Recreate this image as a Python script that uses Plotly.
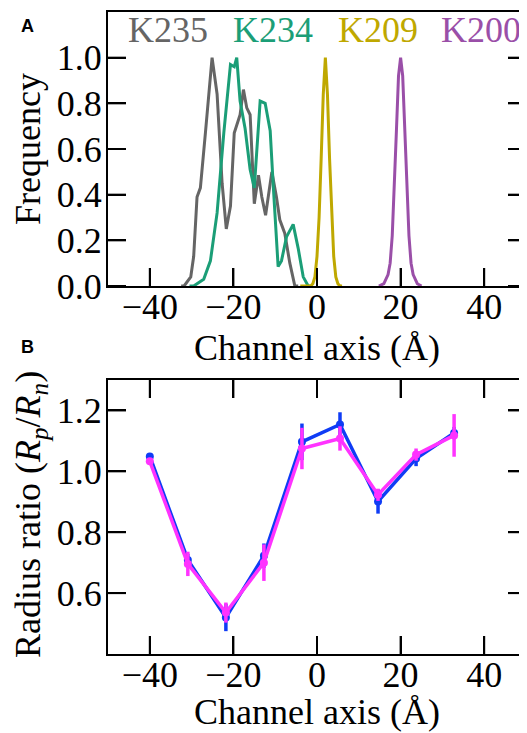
import plotly.graph_objects as go
from plotly.subplots import make_subplots

# panel A: frequency profiles along the channel axis
k235_x = [-32.5, -31.8, -30.2, -29.5, -28.7, -27.9, -26.7, -25.1, -23.9, -22.7, -21.7,
          -20.7, -19.8, -18.4, -17.6, -16.8, -16.0, -15.0, -14.0, -13.2, -12.3,
          -10.8, -9.7, -8.9, -7.7, -6.5, -5.3, -4.5]
k235_y = [0.0, 0.0, 0.04, 0.13, 0.39, 0.43, 0.67, 1.0, 0.84, 0.45, 0.25,
          0.35, 0.67, 0.75, 0.86, 0.78, 0.75, 0.36, 0.485, 0.39, 0.31,
          0.5, 0.39, 0.29, 0.23, 0.10, 0.0, 0.0]

k234_x = [-30.5, -29.5, -27.1, -25.5, -23.9, -22.3, -20.7, -19.8, -19.2, -18.4, -17.2,
          -16.0, -15.0, -14.4, -13.6, -12.4, -11.2, -10.5, -9.3, -8.5, -7.3,
          -5.7, -4.5, -3.3, -2.1, -1.5]
k234_y = [0.0, 0.0, 0.03, 0.11, 0.32, 0.67, 0.97, 0.96, 1.0, 0.81, 0.69,
          0.51, 0.43, 0.595, 0.81, 0.80, 0.68, 0.45, 0.085, 0.11, 0.215,
          0.27, 0.165, 0.04, 0.0, 0.0]

k209_x = [-4.0, -1.5, -1.0, -0.5, 0.0, 0.5, 1.0, 1.5, 2.0, 2.5, 3.0, 3.5, 4.0, 4.5, 5.0, 5.5, 6.0]
k209_y = [0.0, 0.0, 0.01, 0.04, 0.13, 0.3, 0.56, 0.84, 1.0, 0.84, 0.56, 0.3, 0.13, 0.04, 0.01, 0.0, 0.0]

k200_x = [14.8, 16.0, 17.0, 17.5, 18.0, 18.5, 19.0, 19.5, 20.0, 20.5, 21.0, 21.5, 22.0, 22.5, 23.0, 24.0, 25.0]
k200_y = [0.0, 0.01, 0.05, 0.1, 0.22, 0.42, 0.68, 0.92, 1.0, 0.92, 0.68, 0.42, 0.22, 0.1, 0.05, 0.01, 0.0]

profiles = [
    ("K235", k235_x, k235_y, "#656565", -35.7),
    ("K234", k234_x, k234_y, "#1b9e77", -10.5),
    ("K209", k209_x, k209_y, "#bfa800", 14.5),
    ("K200", k200_x, k200_y, "#9a4fa8", 39.3),
]

# panel B: radius ratio
pos = [-40.0, -30.9, -21.8, -12.7, -3.6, 5.5, 14.6, 23.7, 32.8]
blue_y = [1.049, 0.709, 0.52, 0.723, 1.097, 1.154, 0.901, 1.042, 1.126]
blue_err = [0.01, 0.02, 0.045, 0.04, 0.06, 0.04, 0.04, 0.025, 0.02]
pink_y = [1.033, 0.696, 0.536, 0.70, 1.075, 1.108, 0.923, 1.055, 1.118]
pink_err = [0.01, 0.04, 0.033, 0.06, 0.068, 0.04, 0.02, 0.02, 0.07]

x_ticks = [-40, -20, 0, 20, 40]
x_ticktext = ["\u221240", "\u221220", "0", "20", "40"]
ya_ticks = [0, 0.2, 0.4, 0.6, 0.8, 1.0]
yb_ticks = [0.6, 0.8, 1.0, 1.2]

FONT = "Liberation Serif"
tick_font = dict(family=FONT, size=36, color="black")

fig = make_subplots(rows=2, cols=1, vertical_spacing=0.1464)

for name, xs, ys, col, lx in profiles:
    fig.add_trace(go.Scatter(x=xs, y=ys, mode="lines", name=name,
                             line=dict(color=col, width=3)), row=1, col=1)
    fig.add_annotation(x=lx, y=1.12, xref="x", yref="y", text=name, showarrow=False,
                       font=dict(family=FONT, size=36, color=col))

for ys, err, col in [(blue_y, blue_err, "#0f3cf5"), (pink_y, pink_err, "#ff33ff")]:
    ex, ey = [], []
    for p, v, e in zip(pos, ys, err):
        ex += [p, p, None]
        ey += [v - e, v + e, None]
    fig.add_trace(go.Scatter(x=ex, y=ey, mode="lines", line=dict(color=col, width=3.5),
                             hoverinfo="skip"), row=2, col=1)
    fig.add_trace(go.Scatter(x=pos, y=ys, mode="lines+markers",
                             line=dict(color=col, width=3.5),
                             marker=dict(color=col, size=8)), row=2, col=1)

fig.update_xaxes(showline=True, linecolor="black", linewidth=2, ticks="inside",
                 ticklen=18, tickwidth=2, tickcolor="black", showgrid=False,
                 zeroline=False, tickfont=tick_font, range=[-50, 50],
                 tickvals=x_ticks, ticktext=x_ticktext, ticklabelstandoff=-12)
fig.update_yaxes(showline=True, linecolor="black", linewidth=2, ticks="inside",
                 ticklen=18, tickwidth=2, tickcolor="black", showgrid=False,
                 zeroline=False, tickfont=tick_font, mirror="ticks", ticklabelstandoff=-3)
fig.update_xaxes(mirror=True, row=1, col=1)
fig.update_xaxes(mirror="ticks", row=2, col=1)

fig.update_yaxes(range=[0, 1.2], tickvals=ya_ticks,
                 ticktext=["%.1f" % v for v in ya_ticks], row=1, col=1)
fig.update_yaxes(range=[0.4, 1.3], tickvals=yb_ticks,
                 ticktext=["%.1f" % v for v in yb_ticks], row=2, col=1)

# inward tick marks, drawn again as shapes so they always show
tick = dict(color="black", width=2)
for t in x_ticks:
    fig.add_shape(type="line", xref="x", yref="y domain", x0=t, x1=t, y0=0, y1=0.0657, line=tick)
    for y0, y1 in [(0, 0.0657), (1, 1 - 0.0657)]:
        fig.add_shape(type="line", xref="x2", yref="y2 domain", x0=t, x1=t, y0=y0, y1=y1, line=tick)
for xr, yr, vals in [("x domain", "y", ya_ticks), ("x2 domain", "y2", yb_ticks)]:
    for t in vals:
        for x0, x1 in [(0, 0.0431), (1, 1 - 0.0431)]:
            fig.add_shape(type="line", xref=xr, yref=yr, x0=x0, x1=x1, y0=t, y1=t, line=tick)

# axis titles and panel letters
titles = [
    ("Channel axis (Å)", 0.5, 0.4766, 0),
    ("Channel axis (Å)", 0.5, -0.0903, 0),
    ("Frequency", -0.1914, 0.7866, -90),
    ("Radius ratio (<i>R<sub>p</sub></i>/<i>R<sub>n</sub></i>)", -0.1866, 0.2165, -90),
]
for text, px, py, ang in titles:
    fig.add_annotation(x=px, y=py, xref="paper", yref="paper", text=text, showarrow=False,
                       textangle=ang, xanchor="center", yanchor="middle", font=tick_font)

for letter, py in [("A", 0.978), ("B", 0.478)]:
    fig.add_annotation(x=-0.213, y=py, xref="paper", yref="paper", text="<b>" + letter + "</b>",
                       showarrow=False, xanchor="left", yanchor="middle",
                       font=dict(family="Liberation Sans", size=18, color="black"))

fig.update_layout(template="none", width=527, height=733,
                  margin=dict(l=100, r=9, t=4, b=87),
                  plot_bgcolor="white", paper_bgcolor="white", showlegend=False)

fig.write_html("out.html")
